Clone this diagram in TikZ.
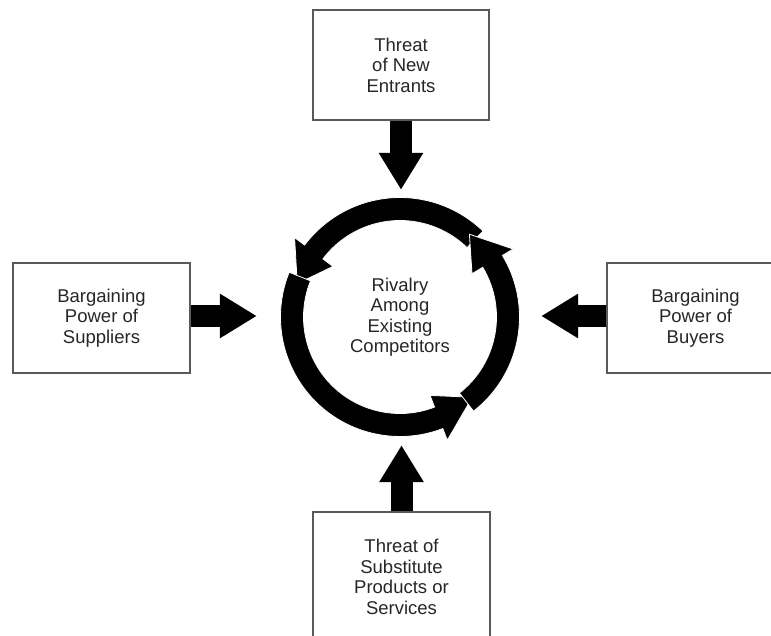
\documentclass[tikz,border=0pt]{standalone}
\usepackage{fontspec}
\setmainfont{Liberation Sans}
\usetikzlibrary{arrows.meta}
\tikzset{
  forcebox/.style={draw=black!65, line width=1.3pt, rectangle, align=center,
    text=black!85, font=\fontsize{18.5}{20.5}\selectfont, inner sep=0pt},
  blockarrow/.style={line width=22pt, -{Triangle[length=37pt,width=42pt]}},
  ringseg/.style={fill=black, draw=white, line width=0.8pt, line join=miter},
}
\begin{document}
\begin{tikzpicture}[x=1pt,y=1pt]
\useasboundingbox (0,0) rectangle (771,635);
\clip (0,0) rectangle (771,635);
% ring centre node with text
\node[circle, minimum size=238pt, inner sep=0pt, align=center, text=black!85,
  font=\fontsize{18.5}{20.5}\selectfont] (ring) at (400,318)
  {Rivalry\\Among\\Existing\\Competitors};
% boxes
\node[forcebox, minimum width=176pt, minimum height=110pt] (top) at (401,570)
  {Threat\\of New\\Entrants};
\node[forcebox, minimum width=177pt, minimum height=110pt] (left) at (101.5,317)
  {Bargaining\\Power of\\Suppliers};
\node[forcebox, minimum width=177pt, minimum height=110pt] (right) at (695.5,317)
  {Bargaining\\Power of\\Buyers};
\node[forcebox, minimum width=177pt, minimum height=130pt] (bottom) at (401.5,58)
  {Threat of\\Substitute\\Products or\\Services};
% block arrows
\draw[blockarrow] (top.south) -- ([yshift=8pt]top.south |- ring.north);
\draw[blockarrow] ([yshift=2pt]left.east) -- ([xshift=-24pt,yshift=2pt]left.east -| ring.west);
\draw[blockarrow] ([yshift=2pt]right.west) -- ([xshift=22pt,yshift=2pt]right.west -| ring.east);
\draw[blockarrow] (bottom.north) -- ([yshift=-9pt]bottom.north |- ring.south);
% circular arrows
\begin{scope}[shift={(ring.center)}]
  \path[ringseg] (46:119.5) arc[start angle=46, end angle=143, radius=119.5]
    -- (143:132) -- (162:108) -- (143:84) -- (143:96.5)
    arc[start angle=143, end angle=46, radius=96.5] -- cycle;
  \path[ringseg] (158:119.5) arc[start angle=158, end angle=291, radius=119.5]
    -- (291:132) -- (312:108) -- (291:84) -- (291:96.5)
    arc[start angle=291, end angle=158, radius=96.5] -- cycle;
  \path[ringseg] (-52:119.5) arc[start angle=-52, end angle=31, radius=119.5]
    -- (31:132) -- (50:108) -- (31:84) -- (31:96.5)
    arc[start angle=31, end angle=-52, radius=96.5] -- cycle;
\end{scope}
\end{tikzpicture}
\end{document}
